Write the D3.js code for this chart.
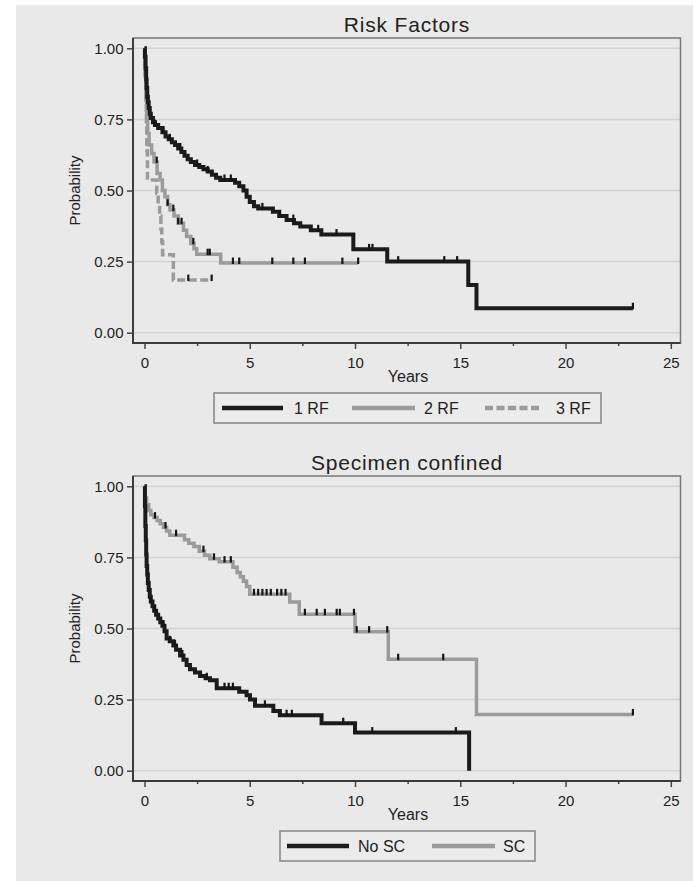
<!DOCTYPE html>
<html>
<head>
<meta charset="utf-8">
<script src="https://cdn.jsdelivr.net/npm/d3@7"></script>
<style>
  html, body { margin: 0; padding: 0; background: #fff; }
  svg text { font-family: "Liberation Sans", Arial, sans-serif; fill: #222; }
</style>
</head>
<body>
<script>
// ---- data ----
const xTicks = [0, 5, 10, 15, 20, 25];
const xMinorTicks = [2.5, 7.5, 12.5, 17.5, 22.5];
const yTicks = [0, 0.25, 0.5, 0.75, 1];

// Risk Factors panel
const rf1Times = [0, 0.02, 0.05, 0.08, 0.1, 0.13, 0.16, 0.2, 0.25, 0.3, 0.4, 0.5, 0.65, 0.85, 1.0, 1.15, 1.3, 1.45, 1.6, 1.75, 1.9, 2.05, 2.2, 2.4, 2.6, 2.8, 3.0, 3.2, 3.4, 3.6, 4.3, 4.5, 4.7, 4.85, 5.0, 5.2, 5.4, 6.1, 6.4, 6.75, 7.1, 7.4, 7.9, 8.4, 9.92, 11.53, 15.38, 15.77];
const rf1Surv  = [1.0, 0.97, 0.93, 0.89, 0.86, 0.83, 0.81, 0.79, 0.77, 0.755, 0.74, 0.73, 0.72, 0.705, 0.69, 0.68, 0.67, 0.66, 0.648, 0.635, 0.622, 0.61, 0.6, 0.59, 0.583, 0.575, 0.567, 0.555, 0.545, 0.537, 0.527, 0.515, 0.5, 0.478, 0.46, 0.445, 0.437, 0.425, 0.41, 0.396, 0.385, 0.373, 0.36, 0.345, 0.293, 0.25, 0.168, 0.086];
const rf1End = 23.2;
const rf1Censor = [0.5, 0.9, 1.2, 1.7, 2.5, 3.0, 3.8, 4.1, 5.6, 6.43, 7.07, 8.25, 9.12, 10.67, 10.83, 12.05, 14.24, 14.85, 23.2];

const rf2Times = [0, 0.03, 0.06, 0.1, 0.15, 0.22, 0.34, 0.45, 0.6, 0.74, 0.85, 0.97, 1.1, 1.21, 1.4, 1.6, 1.85, 2.0, 2.2, 2.35, 2.48, 3.62];
const rf2Surv  = [1.0, 0.9, 0.82, 0.76, 0.7, 0.66, 0.63, 0.6, 0.56, 0.537, 0.5, 0.478, 0.45, 0.431, 0.41, 0.385, 0.36, 0.338, 0.314, 0.295, 0.276, 0.245];
const rf2End = 10.15;
const rf2Censor = [0.58, 1.1, 1.37, 1.6, 1.76, 2.32, 3.0, 3.1, 4.2, 4.5, 6.07, 7.07, 7.62, 9.4, 10.15];

const rf3Times = [0, 0.03, 0.06, 0.09, 0.11, 0.14, 0.58, 0.65, 0.72, 0.78, 0.82, 0.86, 1.37];
const rf3Surv  = [1.0, 0.91, 0.82, 0.73, 0.64, 0.537, 0.49, 0.45, 0.41, 0.365, 0.32, 0.274, 0.185];
const rf3End = 3.19;
const rf3Censor = [2.08, 3.19];

// Specimen confined panel
const noScTimes = [0, 0.02, 0.04, 0.06, 0.08, 0.1, 0.13, 0.16, 0.2, 0.25, 0.3, 0.38, 0.46, 0.55, 0.65, 0.75, 0.85, 0.95, 1.05, 1.2, 1.37, 1.5, 1.69, 1.85, 2.0, 2.16, 2.4, 2.64, 2.9, 3.11, 3.43, 4.5, 4.85, 5.01, 5.25, 6.12, 6.43, 8.41, 10.0, 15.42];
const noScSurv  = [1.0, 0.93, 0.86, 0.81, 0.76, 0.72, 0.69, 0.66, 0.635, 0.612, 0.595, 0.578, 0.562, 0.548, 0.535, 0.522, 0.51, 0.49, 0.465, 0.455, 0.44, 0.425, 0.405, 0.39, 0.372, 0.357, 0.345, 0.333, 0.325, 0.318, 0.29, 0.278, 0.265, 0.25, 0.228, 0.21, 0.195, 0.167, 0.134, 0.0];
const noScEnd = 15.42;
const noScCensor = [0.3, 0.5, 0.9, 1.2, 1.45, 1.8, 2.96, 3.8, 4.0, 4.2, 5.72, 6.75, 7.0, 9.44, 10.82, 14.79];

const scTimes = [0, 0.03, 0.1, 0.2, 0.3, 0.45, 0.6, 0.75, 0.9, 1.05, 1.2, 1.9, 2.1, 2.35, 2.6, 2.85, 3.1, 3.55, 4.2, 4.4, 4.55, 4.7, 4.85, 5.0, 6.9, 7.35, 10.0, 11.58, 15.77];
const scSurv  = [1.0, 0.96, 0.935, 0.915, 0.9, 0.89, 0.88, 0.868, 0.855, 0.843, 0.828, 0.812, 0.8, 0.788, 0.772, 0.758, 0.745, 0.735, 0.715, 0.697, 0.682, 0.666, 0.648, 0.62, 0.593, 0.55, 0.489, 0.392, 0.198];
const scEnd = 23.2;
const scCensor = [0.5, 1.0, 1.5, 2.8, 3.3, 3.8, 4.1, 5.2, 5.4, 5.6, 5.8, 6.0, 6.3, 6.5, 6.7, 7.62, 8.18, 8.57, 9.13, 9.28, 9.95, 10.08, 10.67, 11.53, 12.05, 14.19, 23.2];

const BLACK = "#1b1b1b";
const GRAY = "#9b9b9b";

const W = 693, H = 881;
const svg = d3.select("body").append("svg")
    .attr("width", W)
    .attr("height", H);

svg.append("rect").attr("width", W).attr("height", H).attr("fill", "#fff");
svg.append("rect").attr("x", 16).attr("y", 5).attr("width", W - 16).attr("height", H - 5).attr("fill", "#e9e9e9");

const frameLeft = 133, frameRight = 680.5;
const x = d3.scaleLinear().domain([0, 25]).range([144.5, 670.8]);

function stepValue(times, surv, t) {
    let v = surv[0];
    for (let i = 0; i < times.length; i++) {
        if (times[i] <= t) v = surv[i];
    }
    return v;
}

function drawPanel({ top, title, series, legend }) {
    const bottom = top + 305;
    const y = d3.scaleLinear().domain([0, 1]).range([top + 294.7, top + 10.3]);
    const g = svg.append("g");

    // title
    g.append("text")
        .attr("x", 407)
        .attr("y", top - 6.5)
        .attr("text-anchor", "middle")
        .attr("font-size", "21px")
        .attr("letter-spacing", "0.8px")
        .text(title);

    // grid lines
    g.append("g").selectAll("line")
        .data(yTicks)
        .join("line")
        .attr("x1", frameLeft).attr("x2", frameRight)
        .attr("y1", d => y(d)).attr("y2", d => y(d))
        .attr("stroke", "#d3d3d3")
        .attr("stroke-width", 1.5);

    // frame
    g.append("rect")
        .attr("x", frameLeft).attr("y", top)
        .attr("width", frameRight - frameLeft).attr("height", bottom - top)
        .attr("fill", "none")
        .attr("stroke", "#777")
        .attr("stroke-width", 1.5);

    // y axis
    const yAxis = g.append("g")
        .attr("transform", `translate(${frameLeft},0)`)
        .call(d3.axisLeft(y).tickValues(yTicks).tickFormat(d3.format(".2f")).tickSize(6).tickPadding(3.5));
    yAxis.select(".domain").remove();
    yAxis.selectAll("line").attr("stroke", "#444").attr("stroke-width", 1.5);
    yAxis.selectAll("text").attr("font-size", "15px").attr("fill", "#222").attr("font-family", null);

    // x axis (major + minor ticks)
    const xAxis = g.append("g")
        .attr("transform", `translate(0,${bottom})`)
        .call(d3.axisBottom(x).tickValues(xTicks).tickSize(6).tickPadding(8));
    xAxis.select(".domain").remove();
    xAxis.selectAll("line").attr("stroke", "#444").attr("stroke-width", 1.5);
    xAxis.selectAll("text").attr("font-size", "15px").attr("fill", "#222").attr("font-family", null);

    const xMinor = g.append("g")
        .attr("transform", `translate(0,${bottom})`)
        .call(d3.axisBottom(x).tickValues(xMinorTicks).tickSize(3).tickFormat(""));
    xMinor.select(".domain").remove();
    xMinor.selectAll("line").attr("stroke", "#444").attr("stroke-width", 1.5);

    // darker axis lines on left and bottom
    g.append("line")
        .attr("x1", frameLeft).attr("x2", frameLeft)
        .attr("y1", top).attr("y2", bottom + 1)
        .attr("stroke", "#3c3c3c").attr("stroke-width", 2);
    g.append("line")
        .attr("x1", frameLeft - 1).attr("x2", frameRight)
        .attr("y1", bottom).attr("y2", bottom)
        .attr("stroke", "#3c3c3c").attr("stroke-width", 2);

    // axis titles
    g.append("text")
        .attr("x", 408).attr("y", bottom + 39)
        .attr("text-anchor", "middle")
        .attr("font-size", "16px")
        .text("Years");
    g.append("text")
        .attr("transform", `translate(80,${(y(0) + y(1)) / 2}) rotate(-90)`)
        .attr("text-anchor", "middle")
        .attr("font-size", "15px")
        .text("Probability");

    // curves
    const line = d3.line()
        .x(d => x(d[0]))
        .y(d => y(d[1]))
        .curve(d3.curveStepAfter);

    series.forEach(s => {
        const pts = s.times.map((t, i) => [t, s.surv[i]]);
        pts.push([s.end, s.surv[s.surv.length - 1]]);
        g.append("path")
            .datum(pts)
            .attr("fill", "none")
            .attr("stroke", s.color)
            .attr("stroke-width", s.width)
            .attr("stroke-dasharray", s.dash || null)
            .attr("d", line);
    });

    // censor marks
    series.forEach(s => {
        g.append("g").selectAll("line")
            .data(s.censor)
            .join("line")
            .attr("x1", d => x(d)).attr("x2", d => x(d))
            .attr("y1", d => y(stepValue(s.times, s.surv, d)) - 5.5)
            .attr("y2", d => y(stepValue(s.times, s.surv, d)) + 1)
            .attr("stroke", "#151515")
            .attr("stroke-width", 2.2);
    });

    // legend
    const lTop = bottom + 50;
    const lg = g.append("g");
    lg.append("rect")
        .attr("x", legend.x0).attr("y", lTop)
        .attr("width", legend.x1 - legend.x0).attr("height", 30)
        .attr("fill", "#ebebeb")
        .attr("stroke", "#858585")
        .attr("stroke-width", 1.5);
    legend.items.forEach(it => {
        lg.append("line")
            .attr("x1", it.lx0).attr("x2", it.lx1)
            .attr("y1", lTop + 15).attr("y2", lTop + 15)
            .attr("stroke", it.color)
            .attr("stroke-width", 4.5)
            .attr("stroke-dasharray", it.dash || null);
        lg.append("text")
            .attr("x", it.tx).attr("y", lTop + 20.5)
            .attr("font-size", "16px")
            .text(it.label);
    });
}

drawPanel({
    top: 38,
    title: "Risk Factors",
    series: [
        { times: rf3Times, surv: rf3Surv, end: rf3End, censor: rf3Censor, color: GRAY, width: 3.5, dash: "8,3.5" },
        { times: rf2Times, surv: rf2Surv, end: rf2End, censor: rf2Censor, color: GRAY, width: 3.5 },
        { times: rf1Times, surv: rf1Surv, end: rf1End, censor: rf1Censor, color: BLACK, width: 4 }
    ],
    legend: {
        x0: 214, x1: 601,
        items: [
            { label: "1 RF", color: BLACK, lx0: 222, lx1: 283, tx: 294 },
            { label: "2 RF", color: GRAY, lx0: 352, lx1: 415, tx: 424 },
            { label: "3 RF", color: GRAY, lx0: 485, lx1: 540, tx: 556, dash: "8,3.5" }
        ]
    }
});

drawPanel({
    top: 476,
    title: "Specimen confined",
    series: [
        { times: scTimes, surv: scSurv, end: scEnd, censor: scCensor, color: GRAY, width: 3.5 },
        { times: noScTimes, surv: noScSurv, end: noScEnd, censor: noScCensor, color: BLACK, width: 4 }
    ],
    legend: {
        x0: 280, x1: 535,
        items: [
            { label: "No SC", color: BLACK, lx0: 287, lx1: 349, tx: 358 },
            { label: "SC", color: GRAY, lx0: 432, lx1: 495, tx: 503 }
        ]
    }
});
</script>
</body>
</html>
